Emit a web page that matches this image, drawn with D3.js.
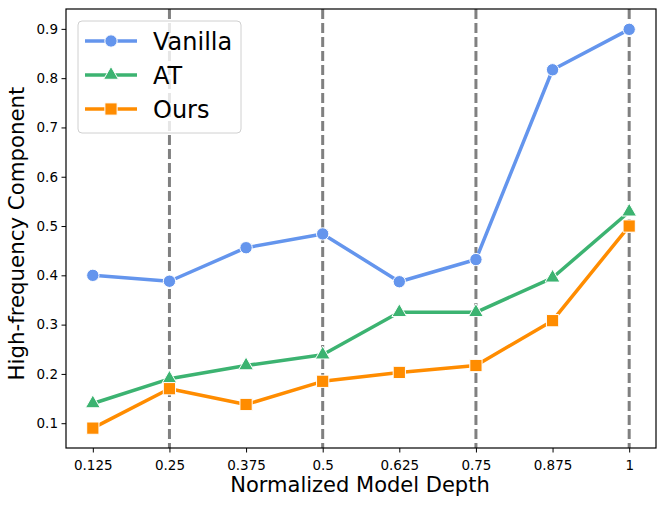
<!DOCTYPE html>
<html>
<head>
<meta charset="utf-8">
<script src="https://cdn.jsdelivr.net/npm/d3@7"></script>
<style>
  body { margin: 0; background: #fff; }
  text { font-family: "DejaVu Sans", sans-serif; }
</style>
</head>
<body>
<div id="chart"></div>
<script>
// data
const depths = ["0.125", "0.25", "0.375", "0.5", "0.625", "0.75", "0.875", "1"];
const vanilla = [0.400, 0.388, 0.456, 0.484, 0.387, 0.432, 0.817, 0.899];
const at = [0.140, 0.190, 0.217, 0.239, 0.325, 0.325, 0.395, 0.529];
const ours = [0.090, 0.170, 0.138, 0.185, 0.203, 0.217, 0.308, 0.500];
const yTicks = [0.1, 0.2, 0.3, 0.4, 0.5, 0.6, 0.7, 0.8, 0.9];
const dashedAt = ["0.25", "0.5", "0.75", "1"];

const series = [
  { name: "Vanilla", values: vanilla, color: "#6495ED", marker: "circle" },
  { name: "AT", values: at, color: "#3CB371", marker: "triangle" },
  { name: "Ours", values: ours, color: "#FF8C00", marker: "square" }
];

const width = 665, height = 506;
const margin = { top: 9, right: 9, bottom: 58, left: 66 };
const w = width - margin.left - margin.right;
const h = height - margin.top - margin.bottom;

const svg = d3.select("#chart").append("svg")
  .attr("width", width).attr("height", height);
const g = svg.append("g")
  .attr("transform", `translate(${margin.left},${margin.top})`);

// categorical x with matplotlib-like margins
const x = d3.scaleLinear().domain([-0.35, depths.length - 1 + 0.35]).range([0, w]);
const y = d3.scaleLinear().domain([0.0497, 0.9403]).range([h, 0]);

// dashed vertical lines
g.selectAll(".vline").data(dashedAt).enter().append("line")
  .attr("x1", d => x(depths.indexOf(d))).attr("x2", d => x(depths.indexOf(d)))
  .attr("y1", 0).attr("y2", h)
  .attr("stroke", "#808080").attr("stroke-width", 3)
  .attr("stroke-dasharray", "10,4");

const line = d3.line().x((d, i) => x(i)).y(d => y(d));

const symbolFor = {
  circle: d3.symbol().type(d3.symbolCircle).size(120),
  triangle: d3.symbol().type(d3.symbolTriangle).size(95),
  square: d3.symbol().type(d3.symbolSquare).size(150)
};

series.forEach(s => {
  g.append("path").datum(s.values)
    .attr("d", line).attr("fill", "none")
    .attr("stroke", s.color).attr("stroke-width", 3.5)
    .attr("stroke-linejoin", "round");
  g.selectAll(null).data(s.values).enter().append("path")
    .attr("d", symbolFor[s.marker])
    .attr("transform", (d, i) => `translate(${x(i)},${y(d)})`)
    .attr("fill", s.color).attr("stroke", "#fff").attr("stroke-width", 1);
});

// axes
const xAxis = g.append("g").attr("transform", `translate(0,${h})`)
  .call(d3.axisBottom(x).tickValues(d3.range(depths.length))
    .tickFormat(i => depths[i]).tickSize(4.5).tickSizeOuter(0));
const yAxis = g.append("g")
  .call(d3.axisLeft(y).tickValues(yTicks).tickFormat(d3.format(".1f"))
    .tickSize(4.5).tickSizeOuter(0));
[xAxis, yAxis].forEach(a => {
  a.select(".domain").remove();
  a.selectAll("text").attr("font-size", 13.5).attr("fill", "#000")
    .style("font-family", "DejaVu Sans, sans-serif");
  a.selectAll("line").attr("stroke", "#000");
});
xAxis.selectAll("text").attr("dy", "1.1em");
yAxis.selectAll("text").attr("x", -8);

// frame
g.append("rect").attr("width", w).attr("height", h)
  .attr("fill", "none").attr("stroke", "#000").attr("stroke-width", 1.2);

// axis labels
svg.append("text")
  .attr("x", margin.left + w / 2 - 1).attr("y", 492)
  .attr("text-anchor", "middle").attr("font-size", 21)
  .text("Normalized Model Depth");
svg.append("text")
  .attr("transform", `translate(24,${margin.top + h / 2 + 5}) rotate(-90)`)
  .attr("text-anchor", "middle").attr("font-size", 21.3)
  .text("High-frequency Component");

// legend
const legend = svg.append("g").attr("transform", "translate(78,21)");
legend.append("rect").attr("width", 163).attr("height", 112)
  .attr("rx", 4).attr("fill", "#fff").attr("fill-opacity", 0.8)
  .attr("stroke", "#d0d0d0").attr("stroke-width", 1);
series.forEach((s, i) => {
  const ly = 20 + i * 34;
  legend.append("line").attr("x1", 7).attr("x2", 59)
    .attr("y1", ly).attr("y2", ly)
    .attr("stroke", s.color).attr("stroke-width", 3.5);
  legend.append("path").attr("d", symbolFor[s.marker])
    .attr("transform", `translate(33,${ly})`)
    .attr("fill", s.color).attr("stroke", "#fff").attr("stroke-width", 1);
  legend.append("text").attr("x", 75).attr("y", ly + 9)
    .attr("font-size", 24).text(s.name);
});
</script>
</body>
</html>
